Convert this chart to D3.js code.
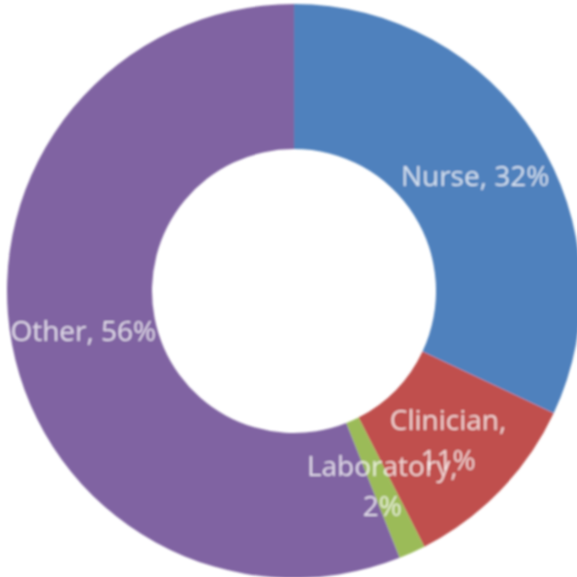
<!DOCTYPE html>
<html>
<head>
<meta charset="utf-8">
<script src="https://cdn.jsdelivr.net/npm/d3@7"></script>
<style>
  html, body { margin: 0; padding: 0; background: #ffffff; }
  svg { display: block; }
</style>
</head>
<body>
<svg id="chart" width="577" height="577"></svg>
<script>
// Data
const categories = ["Nurse", "Clinician", "Laboratory", "Other"];
const values = [32, 10.5, 1.5, 56];
const valueLabels = ["32%", "11%", "2%", "56%"];
const twoLineLabel = [false, true, true, false];
const colors = ["#4F81BD", "#C0504D", "#9BBB59", "#8064A2"];

const data = categories.map((c, i) => ({ name: c, value: values[i], label: valueLabels[i], wrap: twoLineLabel[i], color: colors[i] }));

const svg = d3.select("#chart");
const cx = 294, cy = 291;
const outerR = 287, innerR = 142;

const defs = svg.append("defs");
defs.append("filter").attr("id", "soft")
  .append("feGaussianBlur").attr("stdDeviation", 1.0);

const g = svg.append("g").attr("transform", `translate(${cx},${cy})`).attr("filter", "url(#soft)");

const pie = d3.pie().value(d => d.value).sort(null);
const arc = d3.arc().innerRadius(innerR).outerRadius(outerR);
const arcs = pie(data);

g.selectAll("path.slice").data(arcs).enter().append("path")
  .attr("class", "slice")
  .attr("d", arc)
  .attr("fill", d => d.data.color)
  .attr("stroke", "none");

const lineH = 40;
const labels = g.selectAll("text.lbl").data(arcs).enter().append("text")
  .attr("class", "lbl")
  .attr("transform", d => `translate(${arc.centroid(d)})`)
  .attr("text-anchor", "middle")
  .attr("font-family", "'Open Sans', 'Liberation Sans', sans-serif")
  .attr("font-size", 28)
  .attr("fill", "#ffffff")
  .attr("fill-opacity", 0.75);

labels.each(function(d) {
  const t = d3.select(this);
  if (d.data.wrap) {
    t.append("tspan").attr("x", 0).attr("dy", -lineH / 2 + 10).text(d.data.name + ",");
    t.append("tspan").attr("x", 0).attr("dy", lineH).text(d.data.label);
  } else {
    t.append("tspan").attr("x", 0).attr("dy", 10).text(d.data.name + ", " + d.data.label);
  }
});
</script>
</body>
</html>
